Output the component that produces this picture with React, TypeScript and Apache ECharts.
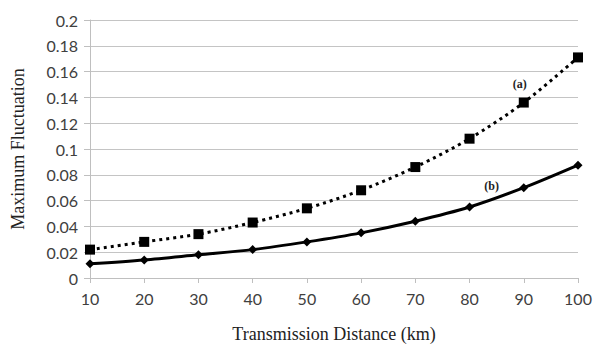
import React, { useEffect, useRef } from "react";
import * as echarts from "echarts";

const distances = [10, 20, 30, 40, 50, 60, 70, 80, 90, 100];
const seriesA = [0.022, 0.028, 0.034, 0.043, 0.054, 0.068, 0.086, 0.108, 0.136, 0.171];
const seriesB = [0.011, 0.014, 0.018, 0.022, 0.028, 0.035, 0.044, 0.055, 0.07, 0.0875];
const labelA = "(a)";
const labelB = "(b)";
const yTicks = ["0", "0.02", "0.04", "0.06", "0.08", "0.1", "0.12", "0.14", "0.16", "0.18", "0.2"];

export default function App() {
  const ref = useRef<HTMLDivElement>(null);
  useEffect(() => {
    const chart = echarts.init(ref.current!, null, { renderer: "svg" });
    const tickFont = { fontFamily: "Lato, sans-serif", fontSize: 16, color: "#404040" };
    const serif = "Liberation Serif, serif";
    const markLabel = (text: string, offset: number[]) => ({
      show: true,
      formatter: text,
      offset,
      fontFamily: serif,
      fontWeight: "bold",
      fontSize: 12,
      color: "#222",
    });
    chart.setOption({
      animation: false,
      backgroundColor: "#ffffff",
      grid: { left: 90, right: 22, top: 20, bottom: 73, containLabel: false },
      xAxis: {
        type: "value",
        min: 10,
        max: 100,
        interval: 10,
        name: "Transmission Distance (km)",
        nameLocation: "middle",
        nameGap: 47,
        nameTextStyle: { fontFamily: serif, fontSize: 18, color: "#222" },
        axisLine: { show: true, lineStyle: { color: "#bfbfbf", width: 1 } },
        axisTick: { show: true, length: 5, inside: false, lineStyle: { color: "#bfbfbf" } },
        axisLabel: { ...tickFont, margin: 12 },
        splitLine: { show: false },
      },
      yAxis: {
        type: "value",
        min: 0,
        max: 0.2,
        interval: 0.02,
        name: "Maximum Fluctuation",
        nameLocation: "middle",
        nameGap: 63,
        nameTextStyle: { fontFamily: serif, fontSize: 18, color: "#222" },
        axisLine: { show: true, lineStyle: { color: "#bfbfbf", width: 1 } },
        axisTick: { show: true, length: 6, inside: false, lineStyle: { color: "#bfbfbf" } },
        axisLabel: {
          ...tickFont,
          margin: 12,
          formatter: (v: number) => {
            const i = Math.round(v / 0.02);
            return yTicks[i] ?? String(v);
          },
        },
        splitLine: { show: true, lineStyle: { color: "#c4c4c4", width: 1 } },
      },
      series: [
        {
          name: "a",
          type: "line",
          smooth: 0.3,
          data: seriesA.map((v, i) => [distances[i], v]),
          symbol: "rect",
          symbolSize: 10,
          lineStyle: { color: "#000", width: 3, type: [3, 4] },
          itemStyle: { color: "#000" },
          markPoint: {
            symbol: "circle",
            symbolSize: 1,
            itemStyle: { color: "rgba(0,0,0,0)" },
            data: [
              {
                coord: [distances[8], seriesA[8]],
                label: markLabel(labelA, [-4, -19]),
              },
            ],
          },
        },
        {
          name: "b",
          type: "line",
          smooth: 0.3,
          data: seriesB.map((v, i) => [distances[i], v]),
          symbol: "diamond",
          symbolSize: 9,
          lineStyle: { color: "#000", width: 3 },
          itemStyle: { color: "#000" },
          markPoint: {
            symbol: "circle",
            symbolSize: 1,
            itemStyle: { color: "rgba(0,0,0,0)" },
            data: [
              {
                coord: [distances[7], seriesB[7]],
                label: markLabel(labelB, [22, -21]),
              },
            ],
          },
        },
      ],
    });
    return () => chart.dispose();
  }, []);
  return <div ref={ref} style={{ width: 600, height: 351, position: "absolute", left: 0, top: 0 }} />;
}
